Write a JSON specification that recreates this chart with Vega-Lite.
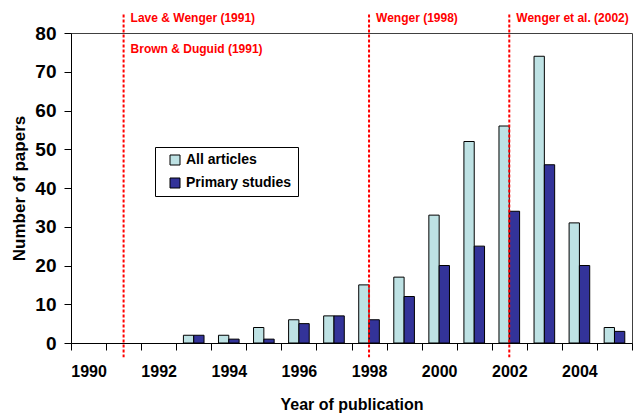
{
  "$schema": "https://vega.github.io/schema/vega-lite/v6.json",
  "width": 561,
  "height": 310,
  "autosize": {"type": "none"},
  "padding": {"left": 71, "top": 33, "right": 5, "bottom": 73},
  "background": "white",
  "config": {
    "view": {"stroke": "#404040", "strokeWidth": 1},
    "font": "Liberation Sans",
    "axisY": {"labelOverlap": false, "labelBound": false, "labelFlush": false, "tickCount": 9}
  },
  "datasets": {
    "papers": [
      {"year": 1993, "series": "All articles", "count": 2},
      {"year": 1993, "series": "Primary studies", "count": 2},
      {"year": 1994, "series": "All articles", "count": 2},
      {"year": 1994, "series": "Primary studies", "count": 1},
      {"year": 1995, "series": "All articles", "count": 4},
      {"year": 1995, "series": "Primary studies", "count": 1},
      {"year": 1996, "series": "All articles", "count": 6},
      {"year": 1996, "series": "Primary studies", "count": 5},
      {"year": 1997, "series": "All articles", "count": 7},
      {"year": 1997, "series": "Primary studies", "count": 7},
      {"year": 1998, "series": "All articles", "count": 15},
      {"year": 1998, "series": "Primary studies", "count": 6},
      {"year": 1999, "series": "All articles", "count": 17},
      {"year": 1999, "series": "Primary studies", "count": 12},
      {"year": 2000, "series": "All articles", "count": 33},
      {"year": 2000, "series": "Primary studies", "count": 20},
      {"year": 2001, "series": "All articles", "count": 52},
      {"year": 2001, "series": "Primary studies", "count": 25},
      {"year": 2002, "series": "All articles", "count": 56},
      {"year": 2002, "series": "Primary studies", "count": 34},
      {"year": 2003, "series": "All articles", "count": 74},
      {"year": 2003, "series": "Primary studies", "count": 46},
      {"year": 2004, "series": "All articles", "count": 31},
      {"year": 2004, "series": "Primary studies", "count": 20},
      {"year": 2005, "series": "All articles", "count": 4},
      {"year": 2005, "series": "Primary studies", "count": 3}
    ],
    "marks": [
      {"year": 1991, "top": "Lave & Wenger (1991)", "below": "Brown & Duguid (1991)"},
      {"year": 1998, "top": "Wenger (1998)", "below": ""},
      {"year": 2002, "top": "Wenger et al. (2002)", "below": ""}
    ]
  },
  "layer": [
    {
      "data": {"name": "papers"},
      "mark": {"type": "bar", "stroke": "black", "strokeWidth": 1},
      "encoding": {
        "x": {
          "field": "year",
          "type": "ordinal",
          "scale": {"domain": [1990, 1991, 1992, 1993, 1994, 1995, 1996, 1997, 1998, 1999, 2000, 2001, 2002, 2003, 2004, 2005], "paddingInner": 0, "paddingOuter": 0},
          "axis": {
            "title": "Year of publication",
            "labelAngle": 0,
            "labelExpr": "datum.value % 2 == 0 ? datum.label : ''",
            "tickBand": "extent",
            "tickSize": 7,
            "tickColor": "black",
            "domainColor": "black",
            "labelFontSize": 16,
            "labelFontWeight": "bold",
            "labelColor": "black",
            "labelPadding": 13,
            "titleFontSize": 16,
            "titleFontWeight": "bold",
            "titleColor": "black",
            "titlePadding": 17
          }
        },
        "xOffset": {
          "field": "series",
          "type": "nominal",
          "scale": {"paddingInner": 0, "paddingOuter": 0.7}
        },
        "y": {
          "field": "count",
          "type": "quantitative",
          "scale": {"domain": [0, 80], "nice": false},
          "axis": {
            "title": "Number of papers",
            "values": [0, 10, 20, 30, 40, 50, 60, 70, 80],
            "tickCount": 9,
            "labelOverlap": false,
            "grid": false,
            "tickSize": 7,
            "tickColor": "black",
            "domainColor": "black",
            "labelFontSize": 19,
            "labelFontWeight": "bold",
            "labelColor": "black",
            "labelPadding": 8,
            "titleFontSize": 17,
            "titleFontWeight": "bold",
            "titleColor": "black",
            "titlePadding": 6
          }
        },
        "color": {
          "field": "series",
          "type": "nominal",
          "scale": {"domain": ["All articles", "Primary studies"], "range": ["#BEE2E4", "#333399"]},
          "legend": {
            "title": null,
            "orient": "none",
            "legendX": 84,
            "legendY": 114,
            "direction": "vertical",
            "strokeColor": "black",
            "fillColor": "white",
            "padding": 6,
            "symbolOffset": 7,
            "symbolType": "square",
            "symbolSize": 100,
            "symbolStrokeColor": "black",
            "symbolStrokeWidth": 1,
            "labelFontSize": 14,
            "labelFontWeight": "bold",
            "labelColor": "black",
            "labelOffset": 4,
            "rowPadding": 9
          }
        }
      }
    },
    {
      "data": {"name": "marks"},
      "mark": {"type": "rule", "color": "#FF0000", "strokeWidth": 2, "strokeDash": [3, 2]},
      "encoding": {
        "x": {"field": "year", "type": "ordinal"},
        "y": {"datum": 84.8, "type": "quantitative", "axis": {"values": [0, 10, 20, 30, 40, 50, 60, 70, 80], "labelOverlap": false}},
        "y2": {"datum": -3.7}
      }
    },
    {
      "data": {"name": "marks"},
      "mark": {"type": "text", "color": "#FF0000", "fontSize": 12, "fontWeight": "bold", "align": "left", "baseline": "alphabetic", "dx": 7, "dy": -11},
      "encoding": {
        "x": {"field": "year", "type": "ordinal"},
        "y": {"datum": 80, "type": "quantitative", "axis": {"values": [0, 10, 20, 30, 40, 50, 60, 70, 80], "labelOverlap": false}},
        "text": {"field": "top"}
      }
    },
    {
      "data": {"name": "marks"},
      "mark": {"type": "text", "color": "#FF0000", "fontSize": 12, "fontWeight": "bold", "align": "left", "baseline": "alphabetic", "dx": 7, "dy": 20},
      "encoding": {
        "x": {"field": "year", "type": "ordinal"},
        "y": {"datum": 80, "type": "quantitative", "axis": {"values": [0, 10, 20, 30, 40, 50, 60, 70, 80], "labelOverlap": false}},
        "text": {"field": "below"}
      }
    }
  ]
}
